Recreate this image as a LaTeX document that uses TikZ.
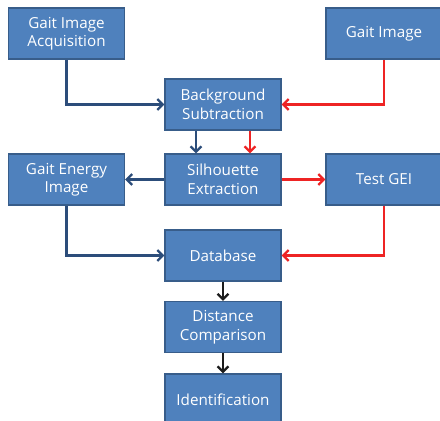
\documentclass[tikz,border=0pt]{standalone}
\usepackage{fontspec}
\setmainfont{Open Sans}
\usetikzlibrary{arrows.meta,calc}
\definecolor{boxfill}{HTML}{4F81BD}
\definecolor{boxline}{HTML}{385D8A}
\definecolor{flowblue}{HTML}{2C4D7A}
\definecolor{flowred}{HTML}{EE2424}
\definecolor{flowdark}{HTML}{1C1C1C}
\tikzset{
  stage/.style={draw=boxline, line width=1.3pt, fill=boxfill, text=white,
    minimum width=116pt, minimum height=51pt, inner sep=0pt, align=center,
    font=\fontsize{15.2}{18.5}\selectfont},
  tip/.style={-{Straight Barb[length=5.5pt,width=11pt,line width=2.2pt]}},
  blueflow/.style={tip, draw=flowblue, line width=2.6pt},
  redflow/.style={tip, draw=flowred, line width=2.6pt},
  darkflow/.style={tip, draw=flowdark, line width=2.6pt},
}
\begin{document}
\begin{tikzpicture}[x=1pt,y=-1pt]
\useasboundingbox (0,0) rectangle (440,421);
\begin{scope}
\clip (0,0) rectangle (440,421);
\node[stage] (acq)  at (66.5,33.5)  {Gait Image\\Acquisition};
\node[stage] (gi)   at (384,33.5)   {Gait Image};
\node[stage] (bg)   at (223,104.5)  {Background\\Subtraction};
\node[stage] (sil)  at (223,179.5)  {Silhouette\\Extraction};
\node[stage] (gei)  at (66.5,179.5) {Gait Energy\\Image};
\node[stage] (test) at (384,179.5)  {Test GEI};
\node[stage] (db)   at (223,255.5)  {Database};
\node[stage] (dist) at (223,327)    {Distance\\Comparison};
\node[stage] (id)   at (223,399.5)  {Identification};

% training path
\draw[blueflow] (acq.south) |- (bg.west);
\draw[blueflow] ([xshift=-27pt]bg.south) -- ([xshift=-27pt]sil.north);
\draw[blueflow] (sil.west) -- (gei.east);
\draw[blueflow] (gei.south) |- (db.west);

% test path
\draw[redflow] (gi.south) |- (bg.east);
\draw[redflow] ([xshift=27pt]bg.south) -- ([xshift=27pt]sil.north);
\draw[redflow] (sil.east) -- (test.west);
\draw[redflow] (test.south) |- (db.east);

% matching
\draw[darkflow] (db.south) -- (dist.north);
\draw[darkflow] (dist.south) -- (id.north);
\end{scope}
\end{tikzpicture}
\end{document}
